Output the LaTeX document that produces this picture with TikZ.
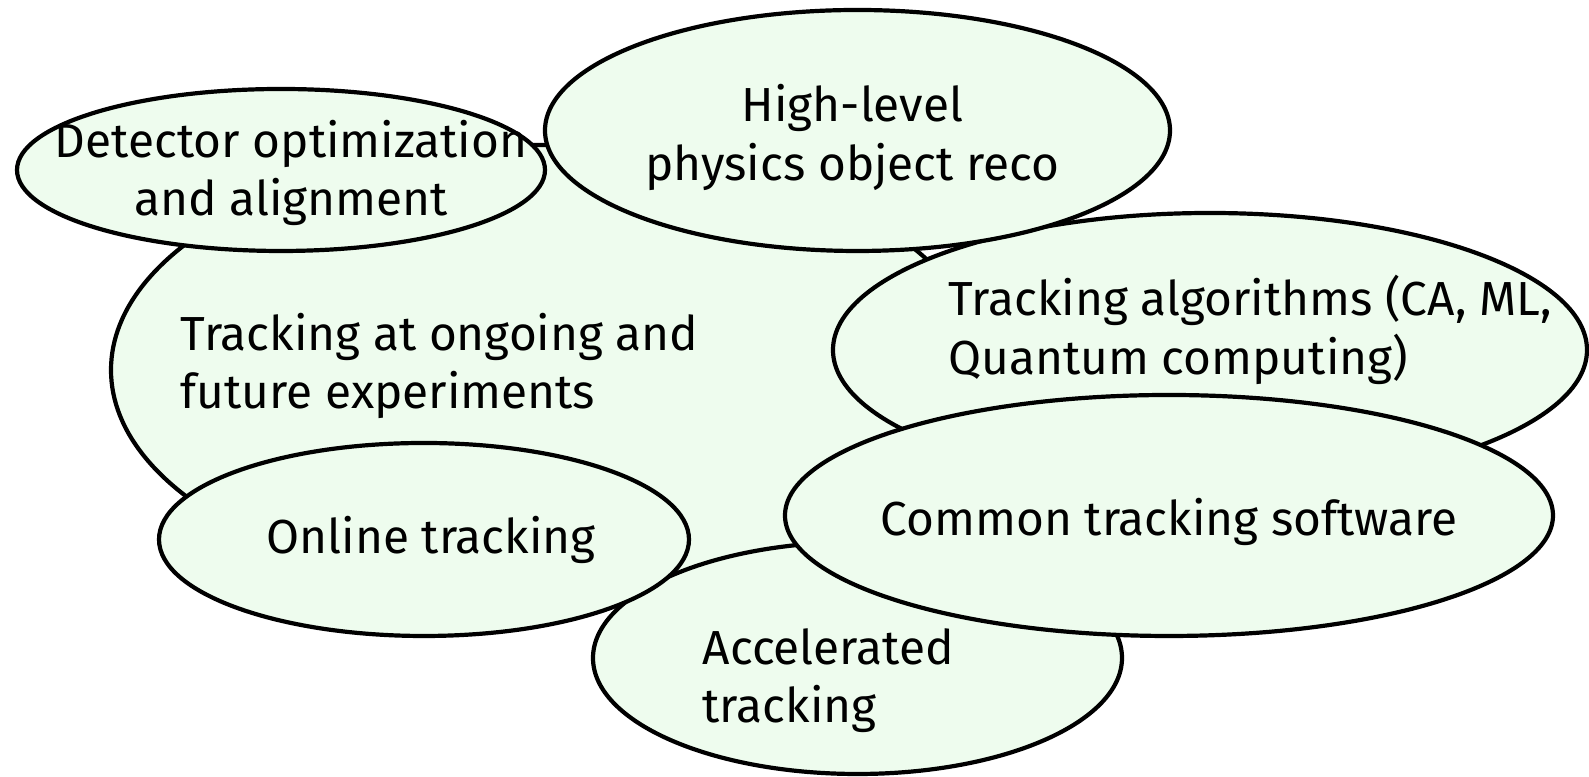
\documentclass[tikz,border=0pt]{standalone}
\usepackage{fontspec}
\setmainfont{Fira Sans}
\usetikzlibrary{calc,shapes.geometric}
\definecolor{blobfill}{RGB}{238,252,238}
\tikzset{blob/.style={draw,ellipse,line width=0.42mm,fill=blobfill,inner sep=0pt}}

\begin{document}
\begin{tikzpicture}[font=\fontsize{13.6}{16.6}\selectfont]
\useasboundingbox (0,0) rectangle (158.9mm,77.7mm);

% big one at the back
\draw node [blob, minimum width=87.2mm, minimum height=45mm] (ongoing) at (54.7mm,40.7mm) {};
\draw node [inner sep=0pt, align=left, anchor=west] (ongoingtxt) at ($ (ongoing.center) + (-36.7mm,0.4mm) $) {Tracking at ongoing and\\future experiments};

\draw node [blob, minimum width=52.9mm, minimum height=23.2mm] (accel) at (85.75mm,11.9mm) {};
\draw node [inner sep=0pt, align=left, anchor=west] (acceltxt) at ($ (accel.center) + (-15.55mm,-2.3mm) $) {Accelerated\\tracking};

\draw node [blob, minimum width=53mm, minimum height=19.3mm] (online) at (42.4mm,23.75mm) {};
\draw node [inner sep=0pt] (onlinetxt) at ($ (online.center) + (0.7mm,0) $) {Online tracking};

\draw node [blob, minimum width=75.4mm, minimum height=27.4mm] (algos) at (121.0mm,42.7mm) {};
\draw node [inner sep=0pt, align=left, anchor=west] (algostxt) at ($ (algos.center) + (-26.25mm,2.0mm) $) {Tracking algorithms (CA, ML,\\Quantum computing)};

\draw node [blob, minimum width=76.8mm, minimum height=24.1mm] (common) at (116.9mm,26.15mm) {};
\draw node [inner sep=0pt] (commontxt) at ($ (common.center) + (0,-0.6mm) $) {Common tracking software};

\draw node [blob, minimum width=52.8mm, minimum height=16.2mm] (detector) at (28.1mm,60.7mm) {};
\draw node [inner sep=0pt, align=center] (detectortxt) at ($ (detector.center) + (1.0mm,-0.3mm) $) {Detector optimization\\and alignment};

\draw node [blob, minimum width=62.5mm, minimum height=24.1mm] (physobj) at (85.75mm,64.65mm) {};
\draw node [inner sep=0pt, align=center] (physobjtxt) at ($ (physobj.center) + (-0.5mm,-0.7mm) $) {High-level\\physics object reco};

\end{tikzpicture}
\end{document}
